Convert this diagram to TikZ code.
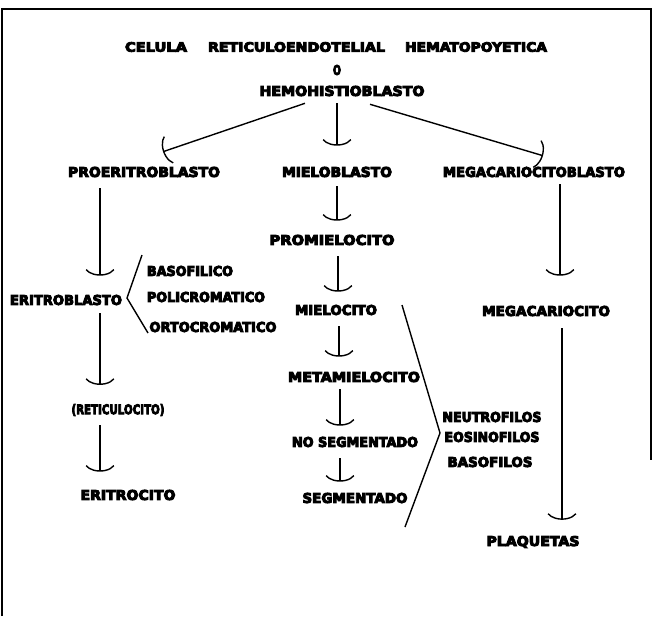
\documentclass[tikz,border=0pt]{standalone}
\usepackage{fontspec}
\setsansfont{DejaVu Sans}[BoldFeatures={FakeBold=7}]
\usetikzlibrary{arrows.meta,calc}
\newcommand\lb[2]{\resizebox{#1pt}{10pt}{\sffamily\bfseries #2}}
\newcommand\tl[2]{\resizebox{#1pt}{9.5pt}{\sffamily\bfseries #2}}
\begin{document}
\begin{tikzpicture}[x=1pt,y=-1pt,
  lbl/.style={inner sep=3pt},
  arr/.style={line width=1.4pt,-{Arc Barb[width=32pt,length=10pt,arc=130,line width=1.4pt]}},
  ln/.style={line width=1.4pt},
  frame/.style={line width=1.6pt}]
\useasboundingbox (0,0) rectangle (656,616);
% frame
\draw[frame] (2,616) -- (2,9) -- (651,9) -- (651,460);
% nodes
\node[lbl] (title) at (336,47) {\tl{62}{CELULA}\hspace{21pt}\tl{177}{RETICULOENDOTELIAL}\hspace{20pt}\tl{142}{HEMATOPOYETICA}};
\node[lbl] (o) at (337,70) {\lb{8}{O}};
\node[lbl] (hemo) at (342,91) {\lb{165}{HEMOHISTIOBLASTO}};
\node[lbl] (proe) at (144,172) {\lb{152}{PROERITROBLASTO}};
\node[lbl] (mielob) at (337,172) {\lb{110}{MIELOBLASTO}};
\node[lbl] (megab) at (534,172) {\lb{182}{MEGACARIOCITOBLASTO}};
\node[lbl] (promiel) at (332,240) {\lb{125}{PROMIELOCITO}};
\node[lbl] (eritrob) at (66,300) {\lb{112}{ERITROBLASTO}};
\node[lbl] (basof) at (190,271) {\lb{86}{BASOFILICO}};
\node[lbl] (polic) at (206,297) {\lb{118}{POLICROMATICO}};
\node[lbl] (ortoc) at (213,327) {\lb{127}{ORTOCROMATICO}};
\node[lbl] (miel) at (336,310) {\lb{82}{MIELOCITO}};
\node[lbl] (metam) at (354,377) {\lb{132}{METAMIELOCITO}};
\node[lbl] (reti) at (118,410) {\lb{93}{(RETICULOCITO)}};
\node[lbl] (noseg) at (355,442) {\lb{126}{NO SEGMENTADO}};
\node[lbl] (eritroc) at (128,495) {\lb{95}{ERITROCITO}};
\node[lbl] (seg) at (355,498) {\lb{105}{SEGMENTADO}};
\node[lbl] (neut) at (492,417) {\lb{99}{NEUTROFILOS}};
\node[lbl] (eosi) at (492,437) {\lb{95}{EOSINOFILOS}};
\node[lbl] (basos) at (490,462) {\lb{85}{BASOFILOS}};
\node[lbl] (megac) at (546,311) {\lb{128}{MEGACARIOCITO}};
\node[lbl] (plaq) at (533,542) {\lb{93}{PLAQUETAS}};
% connectors
\draw[arr] ($(hemo.south)+(-37,4)$) -- ($(proe.north)+(19,-12)$);
\draw[arr] ($(hemo.south)+(-5,4)$) -- ($(mielob.north)+(0,-18)$);
\draw[arr] ($(hemo.south)+(28,5)$) -- ($(megab.north)+(9,-8)$);
\draw[arr] ($(proe.south)+(-44,8)$) -- ($(eritrob.north)+(34,-16)$);
\draw[arr] ($(eritrob.south)+(34,5)$) -- ($(reti.north)+(-18,-16)$);
\draw[arr] ($(reti.south)+(-18,6)$) -- ($(eritroc.north)+(-28,-15)$);
\draw[arr] ($(mielob.south)+(0,6)$) -- ($(promiel.north)+(5,-11)$);
\draw[arr] ($(promiel.south)+(6,8)$) -- ($(miel.north)+(2,-10)$);
\draw[arr] ($(miel.south)+(3,8)$) -- ($(metam.north)+(-15,-12)$);
\draw[arr] ($(metam.south)+(-14,4)$) -- ($(noseg.north)+(-15,-8)$);
\draw[arr] ($(noseg.south)+(-15,8)$) -- ($(seg.north)+(-15,-8)$);
\draw[arr] ($(megab.south)+(26,4)$) -- ($(megac.north)+(14,-27)$);
\draw[arr] ($(megac.south)+(16,9)$) -- ($(plaq.north)+(29,-13)$);
% brackets
\draw[ln] (142,255) -- (127,298) -- (148,333);
\draw[ln] (402,305) -- (440,433) -- (405,527);
\end{tikzpicture}
\end{document}
